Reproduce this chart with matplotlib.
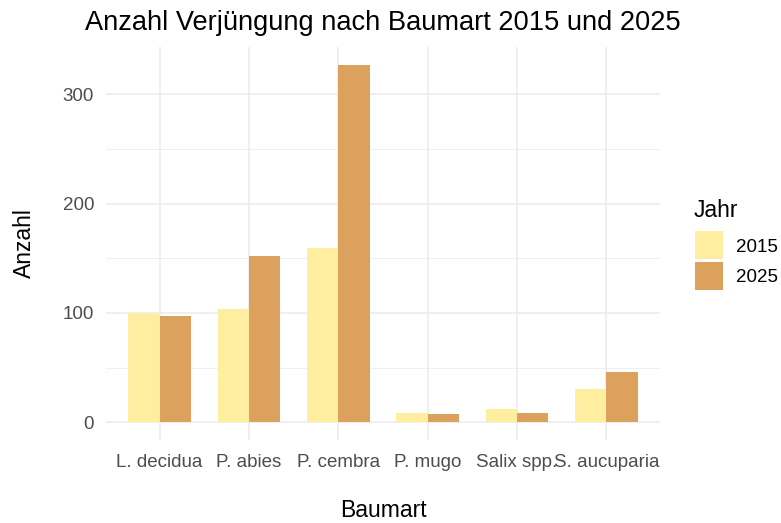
import numpy as np
import matplotlib.pyplot as plt
from matplotlib.patches import Rectangle

plt.rcParams['font.family'] = ['Liberation Sans', 'DejaVu Sans']

# Data
species = ["L. decidua", "P. abies", "P. cembra", "P. mugo", "Salix spp.", "S. aucuparia"]
count_2015 = [100, 104, 159, 8, 12, 30]
count_2025 = [97, 152, 327, 7, 8, 46]
years = ["2015", "2025"]
colors = ["#FFEDA0", "#DDA15E"]

W, H = 781, 523
fig = plt.figure(figsize=(W / 100, H / 100), dpi=100)
# panel position in pixels: left 106, right 660, top 47, bottom 440
ax = fig.add_axes([106 / W, 1 - 440 / H, (660 - 106) / W, (440 - 47) / H])

x = np.arange(len(species))
bw = 0.35
ax.bar(x - bw / 2, count_2015, width=bw, color=colors[0], zorder=2)
ax.bar(x + bw / 2, count_2025, width=bw, color=colors[1], zorder=2)

ymax = max(count_2015 + count_2025)
ax.set_xlim(-0.6, len(species) - 0.4)
ax.set_ylim(-0.05 * ymax, 1.05 * ymax)

ax.set_xticks(x)
ax.set_xticklabels(species)
ax.set_yticks([0, 100, 200, 300])
ax.set_yticks([50, 150, 250], minor=True)
ax.tick_params(axis="both", which="both", length=0, labelsize=13.5, labelcolor="#4D4D4D")
ax.tick_params(axis="x", pad=10)
ax.tick_params(axis="y", pad=8.5)

ax.grid(which="major", color="#EBEBEB", linewidth=1.1, zorder=0)
ax.grid(which="minor", axis="y", color="#EBEBEB", linewidth=0.55, zorder=0)
ax.set_axisbelow(True)
for s in ax.spines.values():
    s.set_visible(False)

ax.set_xlabel("Baumart", fontsize=16.5, labelpad=20)
ax.set_ylabel("Anzahl", fontsize=16.5, labelpad=19)
ax.set_title("Anzahl Verjüngung nach Baumart 2015 und 2025", fontsize=19.6, pad=12)

# legend drawn by hand in pixel units (ggplot-style square keys)
fig.text(694 / W, 1 - 217 / H, "Jahr", fontsize=16.5, ha="left", va="baseline")
key_top, key_size, key_step = 231, 28, 31
for i, (yr, c) in enumerate(zip(years, colors)):
    top = key_top + i * key_step
    fig.patches.append(Rectangle((695 / W, 1 - (top + key_size) / H), key_size / W, key_size / H,
                                 transform=fig.transFigure, facecolor=c, edgecolor="none"))
    fig.text(736 / W, 1 - (top + key_size / 2) / H, yr, fontsize=13.5, ha="left", va="center_baseline")

fig.savefig("out.png", dpi=100)
